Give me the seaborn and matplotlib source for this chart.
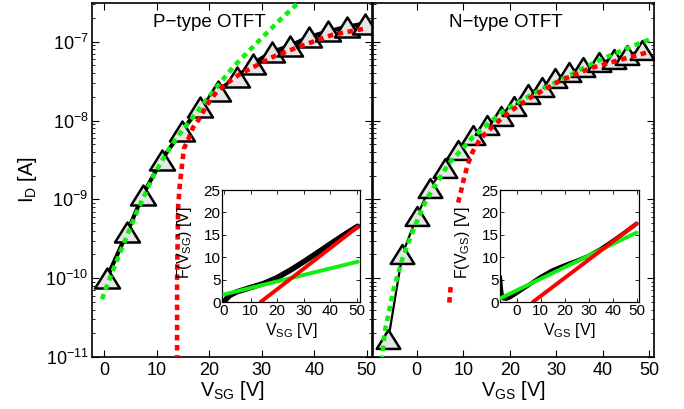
import numpy as np
import pandas as pd
import matplotlib
matplotlib.use("Agg")
import matplotlib.pyplot as plt
import seaborn as sns
from matplotlib.path import Path
from matplotlib.markers import MarkerStyle
from matplotlib.ticker import LogLocator, NullFormatter

# ---------------- P-type OTFT (left panel) ----------------
p_meas_v = [0.5, 4.4, 7.4, 11.0, 14.8, 18.3, 21.7, 25.3, 28.3, 31.9, 35.4, 39.0, 42.6, 46.2, 49.6]
p_meas_i = [1.0e-10, 3.8e-10, 1.15e-9, 3.2e-9, 7.4e-9, 1.48e-8, 2.4e-8, 3.55e-8, 5.25e-8,
            7.4e-8, 8.9e-8, 1.15e-7, 1.35e-7, 1.55e-7, 1.7e-7]
p_green_v = [-0.4, 1.1, 4.3, 6.5, 9.4, 12.0, 14.4, 17.6, 20.2, 24.6, 28.4, 33.5, 37.6, 38.6]
p_green_i = [5.4e-11, 1.0e-10, 3.4e-10, 7.6e-10, 2.0e-9, 4.0e-9, 6.8e-9, 1.26e-8, 2.1e-8,
             4.8e-8, 8.7e-8, 1.9e-7, 3.4e-7, 4.0e-7]
p_red_v = [13.9, 13.9, 14.0, 14.1, 14.4, 14.8, 15.2, 16.0, 16.9, 18.3, 19.5, 21.4, 23.3, 25.9,
           32.2, 37.6, 43.6, 49.9]
p_red_i = [5e-12, 1.0e-10, 3.2e-10, 8.1e-10, 1.48e-9, 2.6e-9, 4.4e-9, 5.75e-9, 8.1e-9,
           1.1e-8, 1.55e-8, 2.3e-8, 2.95e-8, 3.9e-8, 6.45e-8, 8.9e-8, 1.23e-7, 1.48e-7]

# inset P: F(V_SG)
p_F_v = [0, 0.9, 2.2, 4.7, 9.8, 14.8, 19.9, 25.0, 30.1, 35.2, 40.2, 45.3, 50.4]
p_F = [0, 0.75, 1.5, 2.25, 3.2, 4.1, 5.4, 7.1, 9.0, 11.0, 13.0, 15.0, 16.9]
p_Fgreen_v = [0, 50.5]
p_Fgreen = [1.7, 9.0]
p_Fred_v = [13.8, 50.5]
p_Fred = [0, 16.8]

# ---------------- N-type OTFT (right panel) ----------------
n_meas_v = [-6.1, -3.1, 0.1, 2.8, 6.0, 8.9, 12.1, 15.0, 18.2, 20.8, 24.0, 26.9, 29.7, 32.8,
            35.8, 39.1, 42.3, 45.2, 48.4]
n_meas_i = [1.7e-11, 2.0e-10, 6.2e-10, 1.41e-9, 2.5e-9, 4.2e-9, 6.5e-9, 8.7e-9, 1.15e-8,
            1.55e-8, 2.2e-8, 2.7e-8, 3.45e-8, 4.1e-8, 4.8e-8, 5.5e-8, 6.0e-8, 6.8e-8, 7.8e-8]
n_green_v = [-7.6, -6.8, -5.0, -2.9, -0.4, 2.1, 6.8, 12.1, 18.6, 25.1, 32.3, 39.4, 46.6, 50.1]
n_green_i = [8.9e-12, 2.2e-11, 7.1e-11, 1.9e-10, 4.6e-10, 1.0e-9, 2.8e-9, 6.2e-9, 1.32e-8,
             2.2e-8, 3.6e-8, 5.9e-8, 8.9e-8, 1.07e-7]
n_red_a_v = [7.0, 7.3]
n_red_a_i = [4.9e-11, 7.9e-11]
n_red_v = [8.9, 9.5, 10.2, 11.0, 12.0, 13.3, 14.8, 16.8, 19.7, 24.7, 30.8, 37.3, 43.0, 49.9]
n_red_i = [9.1e-10, 1.26e-9, 1.9e-9, 2.8e-9, 4.0e-9, 5.4e-9, 6.9e-9, 8.9e-9, 1.26e-8,
           2.0e-8, 3.2e-8, 4.6e-8, 5.75e-8, 7.4e-8]

# inset N: F(V_GS)
n_F_v = [-7.0, -6.6, -6.2, -5.6, -4.5, -3.0, 0, 5, 10, 15, 20, 25, 30, 35, 40, 45, 50]
n_F = [5.6, 3.0, 1.4, 0.8, 0.7, 1.0, 2.0, 3.8, 5.6, 7.1, 8.2, 9.2, 10.3, 11.8, 13.6, 15.5, 17.5]
n_Fgreen_v = [-7.0, 50.0]
n_Fgreen = [0.8, 15.5]
n_Fred_v = [6.7, 50.0]
n_Fred = [0, 17.5]

x_ticks = [0, 10, 20, 30, 40, 50]
inset_yticks = [0, 5, 10, 15, 20, 25]

# ---------------- style ----------------
sns.set_theme(style="ticks", rc={
    "axes.edgecolor": "black", "text.color": "black", "axes.labelcolor": "black",
    "xtick.color": "black", "ytick.color": "black", "axes.facecolor": "white",
})
plt.rcParams["font.family"] = ["Liberation Sans", "DejaVu Sans"]
plt.rcParams["mathtext.fontset"] = "custom"
plt.rcParams["mathtext.rm"] = "Liberation Sans"
plt.rcParams["mathtext.it"] = "Liberation Sans:italic"
plt.rcParams["mathtext.bf"] = "Liberation Sans:bold"
plt.rcParams["axes.unicode_minus"] = True

GREEN = "#11ee11"
RED = "#ff0000"
DOT = (0, (1.2, 1.0))
tri_path = Path([(0, 0.8), (-1, -0.8), (1, -0.8), (0, 0.8)],
                [Path.MOVETO, Path.LINETO, Path.LINETO, Path.CLOSEPOLY])
TRI = MarkerStyle(tri_path, joinstyle="miter")

fig = plt.figure(figsize=(6.84, 4.09), dpi=100)
W, H = 684.0, 409.0
axL = fig.add_axes([92 / W, 52 / H, 280 / W, 354 / H])
axR = fig.add_axes([373 / W, 52 / H, 281 / W, 354 / H])


def line(ax, xs, ys, **kw):
    df = pd.DataFrame({"x": xs, "y": ys})
    sns.lineplot(data=df, x="x", y="y", ax=ax, estimator=None, sort=False, legend=False, **kw)


def style_main(ax, xlim, xlabel, show_ylabels):
    ax.set_yscale("log")
    ax.set_ylim(1e-11, 3.1e-7)
    ax.set_xlim(*xlim)
    ax.set_xticks(x_ticks)
    ax.yaxis.set_major_locator(LogLocator(base=10, numticks=20))
    ax.yaxis.set_minor_locator(LogLocator(base=10, subs=np.arange(2, 10), numticks=20))
    ax.yaxis.set_minor_formatter(NullFormatter())
    ax.tick_params(which="both", direction="in", top=True, right=True, bottom=True, left=True)
    ax.tick_params(which="major", length=5, width=0.8, labelsize=13)
    ax.tick_params(which="minor", length=2.5, width=0.6)
    ax.tick_params(axis="x", pad=3.5)
    ax.tick_params(axis="y", pad=2.5, labelleft=show_ylabels)
    for s in ax.spines.values():
        s.set_linewidth(1.2)
        s.set_color("black")
    ax.set_xlabel(xlabel, fontsize=14.3)
    ax.xaxis.set_label_coords(0.5, -0.062)


# ---------------- left panel ----------------
line(axL, p_meas_v, p_meas_i, color="black", linewidth=3.0, marker=TRI, markersize=18,
     markerfacecolor="#e6e6e6", markeredgecolor="black", markeredgewidth=1.8, zorder=2)
line(axL, p_green_v, p_green_i, color=GREEN, linewidth=3.3, linestyle=DOT, zorder=3)
line(axL, p_red_v, p_red_i, color=RED, linewidth=3.3, linestyle=DOT, zorder=4)
style_main(axL, (-2.3, 51.0), r"$\mathregular{V_{SG}}$ [V]", True)
axL.set_ylabel(r"$\mathregular{I_{D}}$ [A]", fontsize=14.3)
axL.yaxis.set_label_coords(-0.19, 0.5)
axL.text(0.418, 0.933, "P\u2212type OTFT", transform=axL.transAxes, ha="center",
         va="baseline", fontsize=13.5)

# ---------------- right panel ----------------
line(axR, n_meas_v, n_meas_i, color="black", linewidth=1.6, marker=TRI, markersize=17,
     markerfacecolor="#e6e6e6", markeredgecolor="black", markeredgewidth=1.8, zorder=2)
line(axR, n_green_v, n_green_i, color=GREEN, linewidth=3.3, linestyle=DOT, zorder=3)
line(axR, n_red_a_v, n_red_a_i, color=RED, linewidth=3.3, linestyle=DOT, zorder=4)
line(axR, n_red_v, n_red_i, color=RED, linewidth=3.3, linestyle=DOT, zorder=4)
style_main(axR, (-9.4, 51.0), r"$\mathregular{V_{GS}}$ [V]", False)
axR.set_ylabel("")
axR.text(0.472, 0.933, "N\u2212type OTFT", transform=axR.transAxes, ha="center",
         va="baseline", fontsize=13.5)


# ---------------- insets ----------------
def style_inset(ax, xlim, xlabel, ylabel):
    ax.set_facecolor("white")
    ax.set_xlim(*xlim)
    ax.set_ylim(0, 25)
    ax.set_xticks(x_ticks)
    ax.set_yticks(inset_yticks)
    ax.tick_params(which="both", direction="in", top=True, right=True, bottom=True, left=True,
                   length=3, width=0.6, labelsize=11)
    ax.tick_params(axis="x", pad=1.5)
    ax.tick_params(axis="y", pad=1.0)
    for s in ax.spines.values():
        s.set_linewidth(0.9)
        s.set_color("black")
    ax.set_xlabel(xlabel, fontsize=11.5)
    ax.set_ylabel(ylabel, fontsize=11.5)
    ax.xaxis.set_label_coords(0.5, -0.167)
    ax.yaxis.set_label_coords(-0.2, 0.53)


insL = fig.add_axes([222 / W, 107 / H, 138 / W, 112 / H])
line(insL, p_F_v, p_F, color="black", linewidth=4.0, zorder=2)
line(insL, p_Fgreen_v, p_Fgreen, color=GREEN, linewidth=2.8, zorder=3)
line(insL, p_Fred_v, p_Fred, color=RED, linewidth=2.8, zorder=4)
style_inset(insL, (-0.8, 51.3), r"$\mathregular{V_{SG}}$ [V]", r"F($\mathregular{V_{SG}}$) [V]")

insR = fig.add_axes([500 / W, 107 / H, 139 / W, 112 / H])
line(insR, n_F_v, n_F, color="black", linewidth=3.0, zorder=2)
line(insR, n_Fgreen_v, n_Fgreen, color=GREEN, linewidth=2.8, zorder=3)
line(insR, n_Fred_v, n_Fred, color=RED, linewidth=2.8, zorder=4)
style_inset(insR, (-7.0, 51.0), r"$\mathregular{V_{GS}}$ [V]", r"F($\mathregular{V_{GS}}$) [V]")

fig.savefig("out.png", dpi=100)
